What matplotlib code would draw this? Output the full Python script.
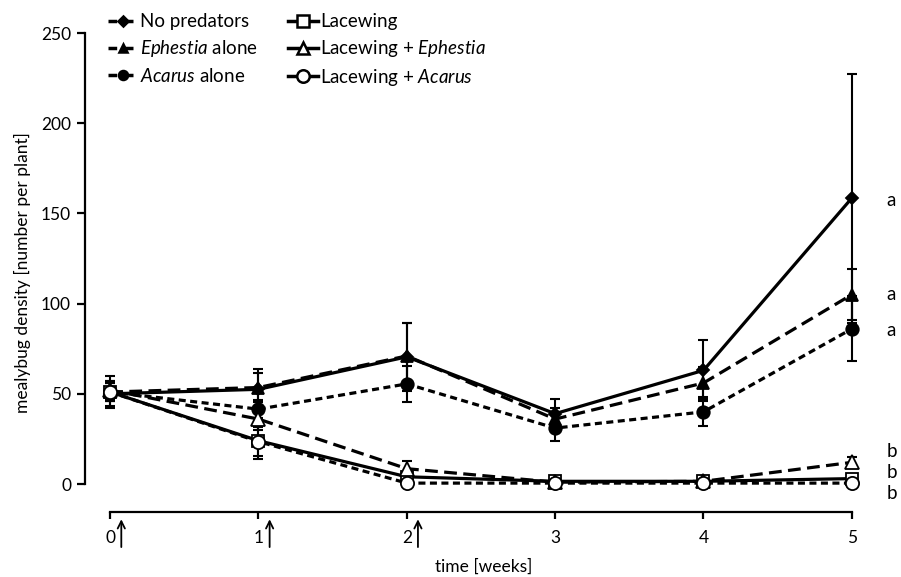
import matplotlib
matplotlib.use("Agg")
import matplotlib.pyplot as plt
from matplotlib.lines import Line2D

plt.rcParams['font.family'] = ['Lato', 'DejaVu Sans']
plt.rcParams['mathtext.fontset'] = 'custom'
plt.rcParams['mathtext.it'] = 'Lato:italic'
plt.rcParams['mathtext.rm'] = 'Lato'

weeks = [0, 1, 2, 3, 4, 5]

# mean mealybug density per plant
no_pred = [50, 52.5, 70.5, 39, 63, 158.5]
no_pred_err = [7, 11, 19, 8, 17, 69]
lacewing = [51, 24, 4, 1.5, 1.5, 3]
lacewing_err = [9, 10, 2, 1, 1, 1]
ephestia = [51, 53.5, 71, 36, 56, 105]
ephestia_err = [5, 8, 18, 6, 9, 14]
lace_eph = [52, 36, 8.5, 1, 1.5, 12]
lace_eph_err = [5, 6, 4, 1, 1, 3]
acarus = [51, 41.5, 55.5, 31, 40, 86]
acarus_err = [5, 5, 10, 7, 8, 18]
lace_aca = [51, 23.5, 0.5, 0.5, 0.5, 0.5]
lace_aca_err = [5, 8, 1, 0.5, 0.5, 0.5]

letters = ['a', 'a', 'a', 'b', 'b', 'b']
letter_y = [157, 105, 85, 18, 6.5, -5]
release_weeks = [0, 1, 2]

fig = plt.figure(figsize=(9.01, 5.77), dpi=100)
ax = fig.add_axes([0.0943, 0.1127, 0.884, 0.830])

series = [
    (no_pred, no_pred_err, '-', 'D', 'black', 6.5, 'No predators'),
    (ephestia, ephestia_err, (0, (4, 2)), '^', 'black', 8, r'$\mathit{Ephestia}$ alone'),
    (acarus, acarus_err, (0, (2.2, 1.4)), 'o', 'black', 9, r'$\mathit{Acarus}$ alone'),
    (lacewing, lacewing_err, '-', 's', 'white', 8, 'Lacewing'),
    (lace_eph, lace_eph_err, (0, (4, 2)), '^', 'white', 9.5, r'Lacewing + $\mathit{Ephestia}$'),
    (lace_aca, lace_aca_err, (0, (2.2, 1.4)), 'o', 'white', 9.5, r'Lacewing + $\mathit{Acarus}$'),
]
# legend handles: short dash, marker, short dash
leg_ls = [(0, (2.5, 2.2)), (0, (2.5, 2.2)), (0, (2.5, 2.2)), '-', '-', '-']
leg_ms = [5, 6, 6.5, 8, 9, 9]

handles = []
for (vals, err, ls, mk, fc, ms, lab), hls, hms in zip(series, leg_ls, leg_ms):
    ax.errorbar(weeks, vals, yerr=err, fmt='none', ecolor='black',
                elinewidth=1.5, capsize=3.5, capthick=1.5, zorder=2)
    ax.plot(weeks, vals, linestyle=ls, color='black', linewidth=2.3,
            marker=mk, markersize=ms, markerfacecolor=fc,
            markeredgecolor='black', markeredgewidth=1.3, zorder=3)
    handles.append(Line2D([], [], linestyle=hls, color='black', linewidth=2.5,
                          marker=mk, markersize=hms, markerfacecolor=fc,
                          markeredgecolor='black', markeredgewidth=1.8, label=lab))

leg = ax.legend(handles=handles, ncol=2, loc='upper left',
                bbox_to_anchor=(0.02, 1.057), frameon=False, fontsize=13.5,
                handlelength=1.6, handletextpad=0.1, columnspacing=1.6,
                labelspacing=0.42, borderaxespad=0)

for lt, ly in zip(letters, letter_y):
    ax.text(5.235, ly, lt, fontsize=13.5, ha='left', va='center', clip_on=False)

for w in release_weeks:
    ax.annotate('', xy=(w + 0.075, -18), xytext=(w + 0.075, -36.5),
                arrowprops=dict(arrowstyle='->', color='black', lw=1.3,
                                mutation_scale=13),
                annotation_clip=False)

ax.set_xlim(-0.17, 5.2)
ax.set_ylim(-15.5, 250)
ax.set_xticks(weeks)
ax.set_yticks([0, 50, 100, 150, 200, 250])
ax.spines['top'].set_visible(False)
ax.spines['right'].set_visible(False)
ax.spines['left'].set_bounds(0, 250)
ax.spines['bottom'].set_bounds(0, 5)
ax.spines['left'].set_linewidth(1.6)
ax.spines['bottom'].set_linewidth(1.6)
ax.tick_params(axis='y', length=6, width=1.6, labelsize=12.5, pad=4)
ax.tick_params(axis='x', length=5, width=1.6, labelsize=12.5, pad=8)
ax.set_xlabel('time [weeks]', fontsize=12.5, labelpad=9)
ax.set_ylabel('mealybug density [number per plant]', fontsize=12.5, labelpad=7)

fig.savefig('out.png', dpi=100)
